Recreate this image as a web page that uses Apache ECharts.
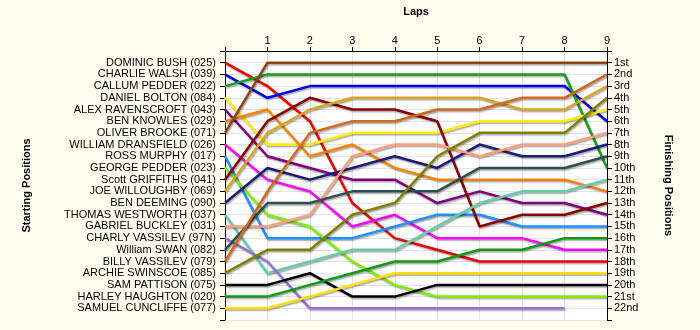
<!DOCTYPE html>
<html>
<head>
<meta charset="utf-8">
<script src="https://cdn.jsdelivr.net/npm/echarts@6/dist/echarts.min.js"></script>
<style>
  html, body { margin: 0; padding: 0; background: #FFFFF0; }
  #chart { width: 700px; height: 330px; }
</style>
</head>
<body>
<div id="chart"></div>
<script>
// Lap numbers (0 = grid)
const laps = [0, 1, 2, 3, 4, 5, 6, 7, 8, 9];

// Drivers in starting order
const drivers = [
  'DOMINIC BUSH (025)', 'CHARLIE WALSH (039)', 'CALLUM PEDDER (022)', 'DANIEL BOLTON (084)',
  'ALEX RAVENSCROFT (043)', 'BEN KNOWLES (029)', 'OLIVER BROOKE (071)', 'WILLIAM DRANSFIELD (026)',
  'ROSS MURPHY (017)', 'GEORGE PEDDER (023)', 'Scott GRIFFITHS (041)', 'JOE WILLOUGHBY (069)',
  'BEN DEEMING (090)', 'THOMAS WESTWORTH (037)', 'GABRIEL BUCKLEY (031)', 'CHARLY VASSILEV (97N)',
  'William SWAN (082)', 'BILLY VASSILEV (079)', 'ARCHIE SWINSCOE (085)', 'SAM PATTISON (075)',
  'HARLEY HAUGHTON (020)', 'SAMUEL CUNCLIFFE (077)'
];

// Right-hand axis labels
const finishLabels = [
  '1st', '2nd', '3rd', '4th', '5th', '6th', '7th', '8th', '9th', '10th', '11th',
  '12th', '13th', '14th', '15th', '16th', '17th', '18th', '19th', '20th', '21st', '22nd'
];

// Race position of each driver at the end of every lap
const posBush        = [1, 3, 6, 13, 16, 17, 18, 18, 18, 18];
const posWalsh       = [2, 4, 3, 3, 3, 3, 3, 3, 3, 6];
const posCPedder     = [3, 2, 2, 2, 2, 2, 2, 2, 2, 10];
const posBolton      = [4, 8, 8, 7, 7, 7, 6, 6, 6, 5];
const posRavenscroft = [5, 9, 10, 11, 11, 13, 12, 13, 13, 14];
const posKnowles     = [6, 5, 9, 8, 10, 11, 11, 11, 11, 12];
const posBrooke      = [7, 1, 1, 1, 1, 1, 1, 1, 1, 1];
const posDransfield  = [8, 11, 12, 15, 14, 16, 16, 16, 17, 17];
const posMurphy      = [9, 16, 16, 16, 15, 14, 14, 15, 15, 15];
const posGPedder     = [10, 14, 15, 18, 20, 21, 21, 21, 21, 21];
const posGriffiths   = [11, 6, 4, 5, 5, 6, 15, 14, 14, 13];
const posWilloughby  = [12, 7, 5, 4, 4, 4, 4, 5, 5, 3];
const posDeeming     = [13, 10, 11, 10, 9, 10, 8, 9, 9, 8];
const posWestworth   = [14, 19, 18, 17, 17, 15, 13, 12, 12, 11];
const posBuckley     = [15, 15, 14, 9, 8, 8, 9, 8, 8, 7];
const posCVassilev   = [16, 18, 22, 22, 22, 22, 22, 22, 22];
const posSwan        = [17, 13, 13, 12, 12, 12, 10, 10, 10, 9];
const posBVassilev   = [18, 12, 7, 6, 6, 5, 5, 4, 4, 2];
const posSwinscoe    = [19, 17, 17, 14, 13, 9, 7, 7, 7, 4];
const posPattison    = [20, 20, 19, 21, 21, 20, 20, 20, 20, 20];
const posHaughton    = [21, 21, 20, 19, 18, 18, 17, 17, 16, 16];
const posCuncliffe   = [22, 22, 21, 20, 19, 19, 19, 19, 19, 19];

const positionRows = [
  posBush, posWalsh, posCPedder, posBolton, posRavenscroft, posKnowles, posBrooke,
  posDransfield, posMurphy, posGPedder, posGriffiths, posWilloughby, posDeeming,
  posWestworth, posBuckley, posCVassilev, posSwan, posBVassilev, posSwinscoe,
  posPattison, posHaughton, posCuncliffe
];

const driverColors = [
  '#F00000', '#0000F0', '#17A017', '#FFEE00', '#800080', '#FF8000', '#8B4513', '#FF00FF',
  '#1E90FF', '#7FEF00', '#8B0000', '#DAA520', '#1C1C78', '#66CDAA', '#FFA07A', '#9370DB',
  '#2F4F4F', '#D2691E', '#808000', '#000000', '#109A10', '#FFE000'
];

const labelFont = { fontFamily: 'Liberation Sans, Arial, sans-serif', fontSize: 11, color: '#000' };
const titleFont = { fontFamily: 'Liberation Sans, Arial, sans-serif', fontSize: 11, fontWeight: 'bold', color: '#000' };

const series = drivers.map((name, i) => ({
  name: name,
  type: 'line',
  symbol: 'none',
  animation: false,
  color: driverColors[i],
  lineStyle: {
    width: 2.5,
    color: driverColors[i],
    shadowColor: 'rgba(0,0,0,0.35)',
    shadowBlur: 1.5,
    shadowOffsetX: 1,
    shadowOffsetY: 1.5
  },
  data: positionRows[i].map((p, k) => [laps[k], p])
}));

const chart = echarts.init(document.getElementById('chart'), null, { renderer: 'canvas' });
chart.setOption({
  backgroundColor: '#FFFFF0',
  animation: false,
  grid: {
    left: 225, right: 93, top: 51, bottom: 10,
    show: true, backgroundColor: '#FFFFFF', borderWidth: 0
  },
  xAxis: {
    type: 'value',
    position: 'top',
    min: 0, max: 9, interval: 1,
    name: 'Laps',
    nameLocation: 'middle',
    nameGap: 34,
    nameTextStyle: titleFont,
    axisLine: { show: true, lineStyle: { color: '#000', width: 1 } },
    axisTick: { show: true, inside: false, length: 4, lineStyle: { color: '#000' } },
    axisLabel: Object.assign({ margin: 5, formatter: v => (v === 0 ? '' : String(v)) }, labelFont),
    splitLine: { show: true, lineStyle: { color: '#E4E4E4', width: 1 } }
  },
  yAxis: [
    {
      type: 'value',
      position: 'left',
      inverse: true,
      min: 0, max: 23, interval: 1,
      name: 'Starting Positions',
      nameLocation: 'middle',
      nameGap: 193,
      nameRotate: 90,
      nameTextStyle: titleFont,
      axisLine: { show: true, lineStyle: { color: '#000', width: 1 } },
      axisTick: { show: true, length: 5, lineStyle: { color: '#000' } },
      axisLabel: Object.assign({ margin: 9, formatter: v => drivers[v - 1] || '' }, labelFont),
      splitLine: { show: true, lineStyle: { color: '#E4E4E4', width: 1 } }
    },
    {
      type: 'value',
      position: 'right',
      inverse: true,
      min: 0, max: 23, interval: 1,
      name: 'Finishing Positions',
      nameLocation: 'middle',
      nameGap: 56,
      nameRotate: -90,
      nameTextStyle: titleFont,
      axisLine: { show: true, lineStyle: { color: '#000', width: 1 } },
      axisTick: { show: true, length: 5, lineStyle: { color: '#000' } },
      axisLabel: Object.assign({ margin: 7, formatter: v => finishLabels[v - 1] || '' }, labelFont),
      splitLine: { show: false }
    }
  ],
  series: series
});
</script>
</body>
</html>
